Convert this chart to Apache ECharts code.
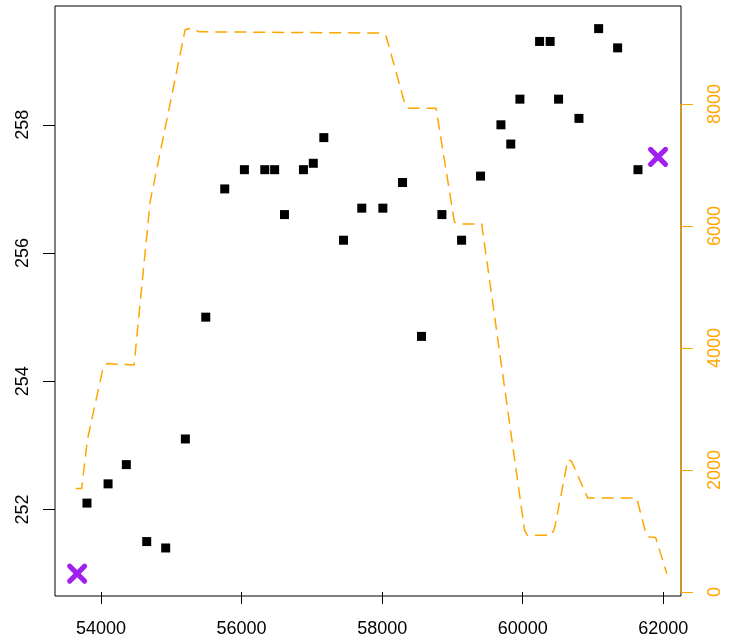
<!DOCTYPE html>
<html>
<head>
<meta charset="utf-8">
<script src="https://cdn.jsdelivr.net/npm/echarts@6/dist/echarts.min.js"></script>
<style>
html,body{margin:0;padding:0;background:#fff;}
#chart{width:730px;height:642px;}
</style>
</head>
<body>
<div id="chart"></div>
<script>
// Black square points
const pointX = [53800, 54100, 54360, 54650, 54920, 55200, 55490, 55760, 56040, 56330, 56470,
                56610, 56880, 57020, 57170, 57450, 57710, 58010, 58290, 58560, 58850, 59130,
                59400, 59690, 59830, 59960, 60240, 60390, 60510, 60800, 61080, 61350, 61640];
const pointY = [252.1, 252.4, 252.7, 251.5, 251.4, 253.1, 255.0, 257.0, 257.3, 257.3, 257.3,
                256.6, 257.3, 257.4, 257.8, 256.2, 256.7, 256.7, 257.1, 254.7, 256.6, 256.2,
                257.2, 258.0, 257.7, 258.4, 259.3, 259.3, 258.4, 258.1, 259.5, 259.2, 257.3];
// Purple X markers
const markX = [53660, 61925];
const markY = [251.0, 257.5];
// Orange dashed line (right axis)
const lineX = [53648, 53725, 53805, 54028, 54085, 54470, 54698, 55197, 55275, 55396, 56600,
               57960, 58055, 58330, 58387, 58767, 59028, 59071, 59416, 60026, 60068, 60406,
               60453, 60642, 60695, 60923, 61621, 61759, 61806, 61892, 62048];
const lineY = [1697, 1697, 2489, 3670, 3744, 3720, 6395, 9216, 9240, 9183, 9172,
               9161, 9117, 7969, 7928, 7928, 6066, 6033, 6033, 1012, 930, 930,
               1045, 2169, 2144, 1542, 1542, 930, 902, 893, 307];
// Tick labels
const xTicks = [54000, 56000, 58000, 60000, 62000];
const leftTicks = [252, 254, 256, 258];
const rightTicks = [0, 2000, 4000, 6000, 8000];

const X_MIN = 53345, X_MAX = 62252;
const YL_MIN = 250.651, YL_MAX = 259.853;
const YR_MIN = -65.6, YR_MAX = 9605;

const FONT = "'Liberation Sans', Arial, sans-serif";
const ORANGE = '#FFA500';
const PURPLE = '#A020F0';
const plain = v => String(v);

const chart = echarts.init(document.getElementById('chart'), null, {renderer: 'canvas'});
chart.setOption({
  animation: false,
  backgroundColor: '#fff',
  grid: {left: 55, top: 6, right: 49, bottom: 46, show: true, borderColor: '#000', borderWidth: 1, backgroundColor: 'transparent'},
  xAxis: {
    type: 'value', min: X_MIN, max: X_MAX,
    splitLine: {show: false},
    axisLine: {show: false},
    axisTick: {show: true, length: 12, lineStyle: {color: '#000', width: 1}, customValues: xTicks},
    axisLabel: {show: true, customValues: xTicks, formatter: plain, color: '#000', fontSize: 18, fontFamily: FONT, margin: 24}
  },
  yAxis: [
    {
      type: 'value', min: YL_MIN, max: YL_MAX, position: 'left',
      splitLine: {show: false},
      axisLine: {show: false},
      axisTick: {show: true, length: 12, lineStyle: {color: '#000', width: 1}, customValues: leftTicks},
      axisLabel: {show: true, customValues: leftTicks, formatter: plain, rotate: 90, color: '#000', fontSize: 18, fontFamily: FONT, margin: 23}
    },
    {
      type: 'value', min: YR_MIN, max: YR_MAX, position: 'right',
      splitLine: {show: false},
      axisLine: {show: false},
      axisTick: {show: true, length: 12, lineStyle: {color: ORANGE, width: 1}, customValues: rightTicks},
      axisLabel: {show: true, customValues: rightTicks, formatter: plain, rotate: 90, color: ORANGE, fontSize: 18, fontFamily: FONT, margin: 25}
    }
  ],
  series: [
    {
      type: 'line', yAxisIndex: 1, silent: true, clip: false,
      data: [[X_MAX, rightTicks[0]], [X_MAX, rightTicks[rightTicks.length - 1]]],
      symbol: 'none', lineStyle: {color: ORANGE, width: 1.2}, z: 5
    },
    {
      type: 'line', yAxisIndex: 1, silent: true,
      data: lineX.map((x, i) => [x, lineY[i]]),
      symbol: 'none',
      lineStyle: {color: ORANGE, width: 1.5, type: [11, 8], cap: 'round', join: 'round'},
      z: 3
    },
    {
      type: 'scatter', yAxisIndex: 0, silent: true,
      data: pointX.map((x, i) => [x, pointY[i]]),
      symbol: 'rect', symbolSize: 9,
      itemStyle: {color: '#000', opacity: 1}, z: 4
    },
    {
      type: 'scatter', yAxisIndex: 0, silent: true,
      data: markX.map((x, i) => [x, markY[i]]),
      symbol: 'path://M0,0L10,10M10,0L0,10', symbolSize: 15,
      itemStyle: {color: 'none', borderColor: PURPLE, borderWidth: 5, borderCap: 'round', opacity: 1}, z: 6
    }
  ]
});
</script>
</body>
</html>
